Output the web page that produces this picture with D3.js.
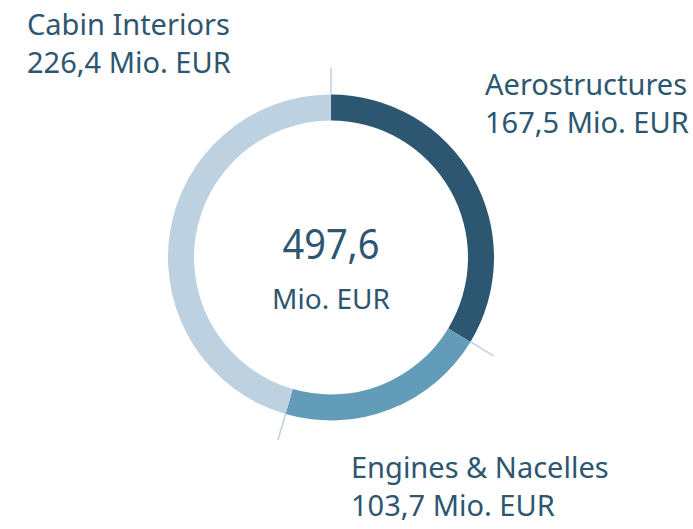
<!DOCTYPE html>
<html>
<head>
<meta charset="utf-8">
<script src="https://cdn.jsdelivr.net/npm/d3@7"></script>
<style>
  body { margin: 0; background: #fff; }
  svg { display: block; font-family: "Noto Sans", sans-serif; }
</style>
</head>
<body>
<svg id="chart" width="693" height="529"></svg>
<script>
// data
const categories = ['Aerostructures', 'Engines & Nacelles', 'Cabin Interiors'];
const values = [167.5, 103.7, 226.4];
const colors = ['#2d5670', '#629cb9', '#bdd1e0'];
const totalLabel = '497,6';
const unit = 'Mio. EUR';

const width = 693, height = 529;
const cx = 331, cy = 257.5;
const outerR = 163, innerR = 137, tickR = 190;

const fmt = v => d3.format('.1f')(v).replace('.', ',');

const svg = d3.select('#chart');
const g = svg.append('g').attr('transform', `translate(${cx},${cy})`);

const pie = d3.pie().sort(null).value(d => d.value);
const arcs = pie(categories.map((c, i) => ({ name: c, value: values[i], color: colors[i] })));

const arc = d3.arc().innerRadius(innerR).outerRadius(outerR);

g.selectAll('path.slice')
  .data(arcs)
  .join('path')
  .attr('class', 'slice')
  .attr('d', arc)
  .attr('fill', d => d.data.color);

// small separators at each slice start
g.selectAll('line.tick')
  .data(arcs)
  .join('line')
  .attr('class', 'tick')
  .attr('x1', d => Math.sin(d.startAngle) * outerR)
  .attr('y1', d => -Math.cos(d.startAngle) * outerR)
  .attr('x2', d => Math.sin(d.startAngle) * tickR)
  .attr('y2', d => -Math.cos(d.startAngle) * tickR)
  .attr('stroke', '#bdd1e0')
  .attr('stroke-width', 1.5);

// centre text
g.append('text')
  .attr('text-anchor', 'middle')
  .attr('y', 1.5)
  .attr('font-size', 42)
  .attr('textLength', 97)
  .attr('lengthAdjust', 'spacingAndGlyphs')
  .attr('fill', '#2d5670')
  .text(totalLabel);
g.append('text')
  .attr('text-anchor', 'middle')
  .attr('y', 51)
  .attr('font-size', 28)
  .attr('fill', '#2d5670')
  .text(unit);

// outside labels
const labelPos = [
  { x: 485, y: 95 },
  { x: 351, y: 478 },
  { x: 27, y: 35 }
];
const labels = svg.append('g')
  .selectAll('text')
  .data(arcs)
  .join('text')
  .attr('font-size', 29)
  .attr('fill', '#2d5670')
  .attr('transform', (d, i) => `translate(${labelPos[i].x},${labelPos[i].y})`);
labels.append('tspan').attr('x', 0).attr('y', 0).text(d => d.data.name);
labels.append('tspan').attr('x', 0).attr('y', 38).text(d => `${fmt(d.data.value)} ${unit}`);
</script>
</body>
</html>
